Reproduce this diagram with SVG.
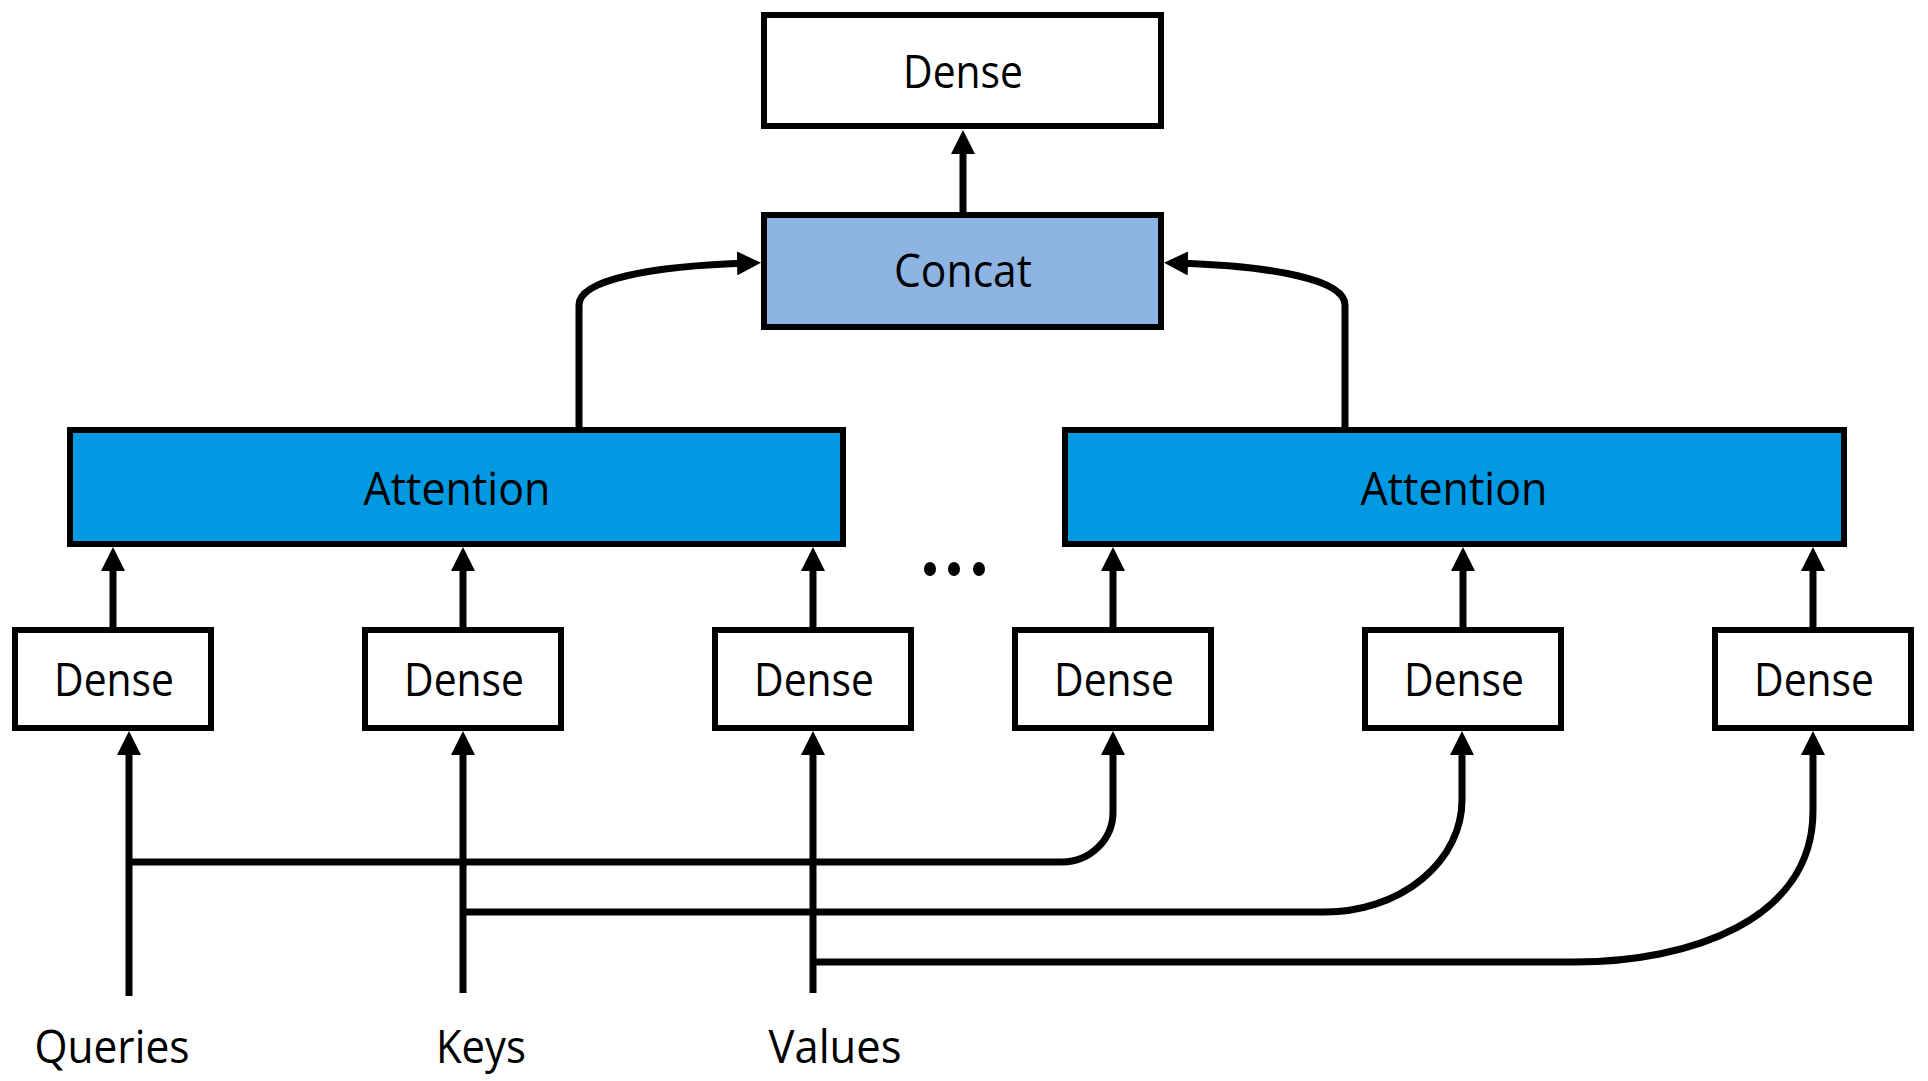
<svg xmlns="http://www.w3.org/2000/svg" width="1928" height="1081" viewBox="0 0 1928 1081">
  <style>
    .box { stroke: #000; stroke-width: 6; }
    .plain { fill: #fff; }
    .concat { fill: #8EB4E3; }
    .attn { fill: #0299E3; }
    .lbl { font-family: "Open Sans", "Noto Sans", "Liberation Sans", sans-serif; font-size: 45px; fill: #000; text-anchor: middle; }
    .edge { fill: none; stroke: #000; stroke-width: 7; }
  </style>
  <defs>
    <marker id="head" markerUnits="userSpaceOnUse" viewBox="0 0 24 24" markerWidth="24" markerHeight="24" refX="12" refY="12" orient="auto">
      <path d="M0,0 L24,12 L0,24 z" fill="#000"/>
    </marker>
  </defs>
  <rect width="1928" height="1081" fill="#fff"/>

  <!-- connectors -->
  <g id="connectors">
    <path class="edge" d="M963,214 V142" marker-end="url(#head)"/>
    <path class="edge" d="M579,432 V305 C579,280 650,266 749,263" marker-end="url(#head)"/>
    <path class="edge" d="M1345,432 V305 C1345,280 1275,266 1176,263" marker-end="url(#head)"/>
    <path class="edge" d="M113,630 V559" marker-end="url(#head)"/>
    <path class="edge" d="M463,630 V559" marker-end="url(#head)"/>
    <path class="edge" d="M813,630 V559" marker-end="url(#head)"/>
    <path class="edge" d="M1113,630 V559" marker-end="url(#head)"/>
    <path class="edge" d="M1463,630 V559" marker-end="url(#head)"/>
    <path class="edge" d="M1813,630 V559" marker-end="url(#head)"/>
    <!-- inputs -->
    <path class="edge" d="M129,996 V743" marker-end="url(#head)"/>
    <path class="edge" d="M463,993 V743" marker-end="url(#head)"/>
    <path class="edge" d="M813,993 V743" marker-end="url(#head)"/>
    <path class="edge" d="M129,862 H1062 A51,50 0 0 0 1113,812 V743" marker-end="url(#head)"/>
    <path class="edge" d="M463,912 H1325 A137,112 0 0 0 1462,800 V743" marker-end="url(#head)"/>
    <path class="edge" d="M813,962 H1575 C1690,962 1813,920 1813,811 V743" marker-end="url(#head)"/>
  </g>

  <g id="dense-out">
    <rect class="box plain" x="764" y="15" width="397" height="111"/>
    <text class="lbl" x="963" y="88" textLength="120" lengthAdjust="spacingAndGlyphs">Dense</text>
  </g>
  <g id="concat">
    <rect class="box concat" x="764" y="215" width="397" height="112"/>
    <text class="lbl" x="963" y="287" textLength="138" lengthAdjust="spacingAndGlyphs">Concat</text>
  </g>
  <g id="attention-1">
    <rect class="box attn" x="70" y="430" width="773" height="114"/>
    <text class="lbl" x="457" y="505" textLength="187" lengthAdjust="spacingAndGlyphs">Attention</text>
  </g>
  <g id="attention-h">
    <rect class="box attn" x="1065" y="430" width="779" height="114"/>
    <text class="lbl" x="1454" y="505" textLength="187" lengthAdjust="spacingAndGlyphs">Attention</text>
  </g>

  <g id="ellipsis">
    <ellipse cx="930" cy="569" rx="6" ry="7" fill="#000"/>
    <ellipse cx="954" cy="569" rx="6" ry="7" fill="#000"/>
    <ellipse cx="979" cy="569" rx="6" ry="7" fill="#000"/>
  </g>

  <g id="dense-q1">
    <rect class="box plain" x="15" y="630" width="196" height="98"/>
    <text class="lbl" x="114" y="696" textLength="120" lengthAdjust="spacingAndGlyphs">Dense</text>
  </g>
  <g id="dense-k1">
    <rect class="box plain" x="365" y="630" width="196" height="98"/>
    <text class="lbl" x="464" y="696" textLength="120" lengthAdjust="spacingAndGlyphs">Dense</text>
  </g>
  <g id="dense-v1">
    <rect class="box plain" x="715" y="630" width="196" height="98"/>
    <text class="lbl" x="814" y="696" textLength="120" lengthAdjust="spacingAndGlyphs">Dense</text>
  </g>
  <g id="dense-qh">
    <rect class="box plain" x="1015" y="630" width="196" height="98"/>
    <text class="lbl" x="1114" y="696" textLength="120" lengthAdjust="spacingAndGlyphs">Dense</text>
  </g>
  <g id="dense-kh">
    <rect class="box plain" x="1365" y="630" width="196" height="98"/>
    <text class="lbl" x="1464" y="696" textLength="120" lengthAdjust="spacingAndGlyphs">Dense</text>
  </g>
  <g id="dense-vh">
    <rect class="box plain" x="1715" y="630" width="196" height="98"/>
    <text class="lbl" x="1814" y="696" textLength="120" lengthAdjust="spacingAndGlyphs">Dense</text>
  </g>

  <g id="queries">
    <text class="lbl" x="112" y="1063" textLength="155" lengthAdjust="spacingAndGlyphs">Queries</text>
  </g>
  <g id="keys">
    <text class="lbl" x="481" y="1063" textLength="90" lengthAdjust="spacingAndGlyphs">Keys</text>
  </g>
  <g id="values">
    <text class="lbl" x="835" y="1063" textLength="133" lengthAdjust="spacingAndGlyphs">Values</text>
  </g>
</svg>
